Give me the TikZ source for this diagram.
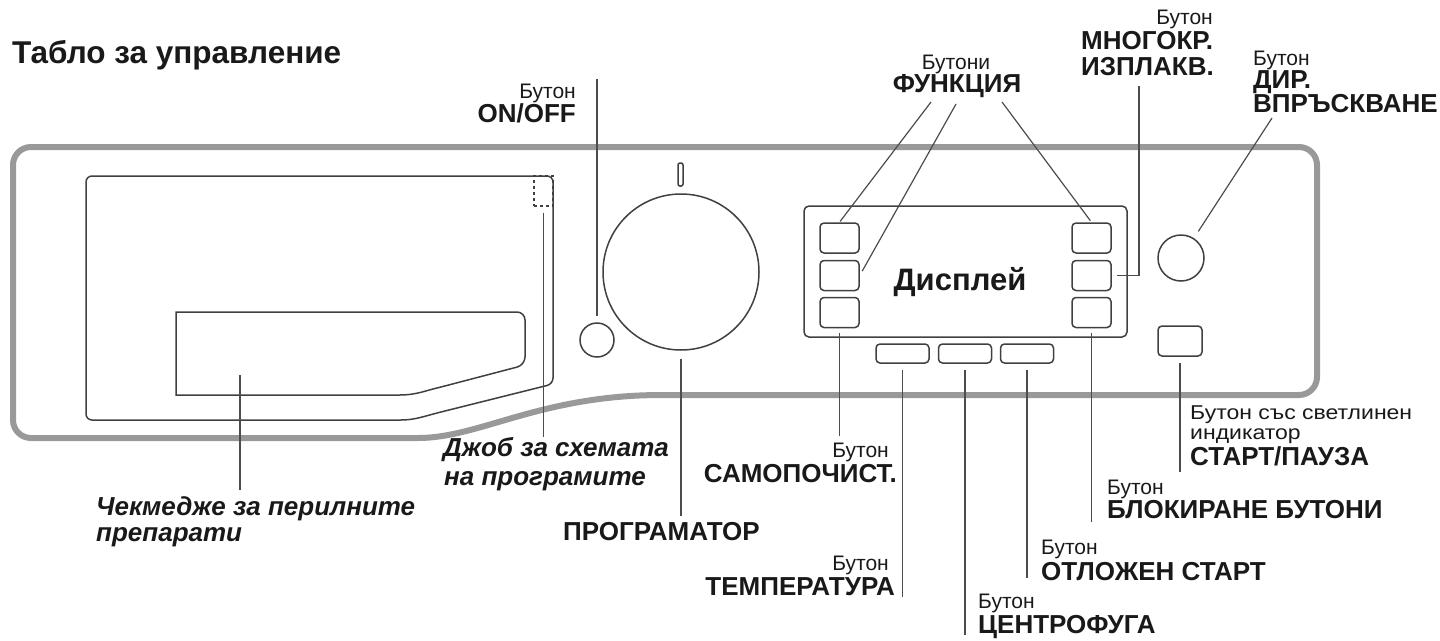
\documentclass[tikz,border=0pt]{standalone}
\usepackage{fontspec}
\setmainfont{Liberation Sans}
\newfontfamily\widesans[FakeStretch=1.15]{Liberation Sans}
\usetikzlibrary{positioning}

\begin{document}
\begin{tikzpicture}[x=1pt,y=-1pt,
  frame/.style={draw=black!40, line width=6pt},
  panel/.style={draw=black!75, line width=1.5pt},
  lead/.style={draw=black!70, line width=1.2pt},
  gap/.style={shorten <=6pt},
  btn/.style={draw=black!75, line width=1.5pt, rounded corners=4pt, inner sep=0pt,
    minimum width=39pt, minimum height=30pt},
  wide/.style={btn, minimum width=53pt, minimum height=19pt},
  knob/.style={circle, draw=black!75, line width=1.5pt, inner sep=0pt},
  word/.style={inner sep=0pt, text=black!90, font=\fontsize{21}{24}\selectfont},
  caps/.style={inner sep=0pt, text=black!90, font=\fontsize{26}{28}\selectfont\bfseries},
  slant/.style={inner sep=0pt, text=black!90, font=\fontsize{26}{28}\selectfont\bfseries\itshape}]
\useasboundingbox (0,0) rectangle (1440,640);

%% Title
\node[caps, anchor=base west, font=\fontsize{31.5}{34}\selectfont\bfseries] (title) at (12,63) {Табло за управление};

%% Panel outline
\draw[frame, rounded corners=18pt] (680,395) .. controls (540,395) and (480,438) .. (400,438)
  -- (13,438) -- (13,147) -- (1317,147) -- (1317,395) -- cycle;

%% Detergent drawer
\draw[panel, rounded corners=6pt] (86,420) -- (86,176) -- (553,176) -- (553,384) -- (445,411)
  .. controls (425,416) and (415,420) .. (395,420) -- cycle;
\draw[panel] (176,395) -- (176,312) {[rounded corners=8pt] -- (525,312) -- (525,365) -- (441,387)}
  .. controls (425,391) and (415,395) .. (400,395) -- cycle;
\node[draw=black!75, line width=1.2pt, dashed, inner sep=0pt, minimum width=19pt, minimum height=30pt]
  (pocket) at (543.5,191) {};

%% Knobs
\node[knob, minimum size=34pt] (onoff) at (597,340) {};
\node[knob, minimum size=156pt] (dial) at (681,272) {};
\draw[panel, rounded corners=2pt] (678,163) rectangle (683,186);
\node[knob, minimum size=46pt] (dir) at (1181,258) {};
\node[btn, minimum width=44pt] (start) at (1180,341) {};

%% Display with buttons
\node[draw=black!75, line width=1.5pt, rounded corners=5pt, minimum width=323pt, minimum height=131pt]
  (disp) at (965.5,271.5) {};
\node[caps, font=\fontsize{31}{34}\selectfont\bfseries, anchor=base] (disptxt) at (960,290) {Дисплей};
\foreach \n/\y in {1/238,2/275.5,3/312.5}{
  \node[btn] (f\n) at (839.5,\y) {};
  \node[btn] (r\n) at (1091.5,\y) {};
}
\foreach \n/\x in {1/902.5,2/965,3/1027}
  \node[wide] (b\n) at (\x,353.5) {};

%% Label ends
\coordinate (onoffend) at (597,79);
\coordinate (fa) at (931,102);
\coordinate (fb) at (956,104);
\coordinate (fc) at (1002,102);
\coordinate (mn) at (1139,86);
\coordinate (dr) at (1272,118);
\coordinate (dialend) at (681,516);
\coordinate (samoend) at (839.5,436);
\coordinate (tempend) at (902.5,597);
\coordinate (centend) at (965,635);
\coordinate (otlend) at (1027,578);
\coordinate (blokend) at (1091.5,522);
\coordinate (startend) at (1180,472);
\coordinate (pocketend) at (543.5,437);
\coordinate (da) at (240,375);
\coordinate (db) at (240,490);

%% Leader lines
\draw[lead, gap] (onoff) -- (onoffend);
\draw[lead, shorten >=1pt] (fa) -- (f1.north);
\draw[lead, shorten >=5pt] (fb) -- (f2.east);
\draw[lead, shorten >=2pt] (fc) -- (r1.north);
\draw[lead] ([xshift=5pt]r2.east) -| (mn);
\draw[lead, shorten <=8pt] (dir) -- (dr);
\draw[lead, shorten <=8pt] (dial) -- (dialend);
\draw[lead, shorten <=5pt] (f3) -- (samoend);
\draw[lead, gap] (b1) -- (tempend);
\draw[lead, gap] (b2) -- (centend);
\draw[lead, gap] (b3) -- (otlend);
\draw[lead, shorten <=5pt] (r3) -- (blokend);
\draw[lead, gap] (start) -- (startend);
\draw[lead, gap] (pocket) -- (pocketend);
\draw[lead] (da) -- (db);

%% Labels
\node[word, anchor=base east] (l1a) at (576,98) {Бутон};
\node[caps, anchor=base east] (l1b) at (576,122) {ON/OFF};
\node[word, anchor=base] (l2a) at (956,69) {Бутони};
\node[caps, anchor=base] (l2b) at (957,92) {ФУНКЦИЯ};
\node[word, anchor=base east] (l3a) at (1213,24) {Бутон};
\node[caps, anchor=base west] (l3b) at (1081,49) {МНОГОКР.};
\node[caps, anchor=base west] (l3c) at (1081,75) {ИЗПЛАКВ.};
\node[word, anchor=base west] (l4a) at (1253,65) {Бутон};
\node[caps, anchor=base west] (l4b) at (1253,88) {ДИР.};
\node[caps, anchor=base west] (l4c) at (1253,112) {ВПРЪСКВАНЕ};
\node[word, anchor=base east] (l5a) at (889,457) {Бутон};
\node[caps, anchor=base east] (l5b) at (897,482) {САМОПОЧИСТ.};
\node[word, anchor=base east] (l6a) at (889,570) {Бутон};
\node[caps, anchor=base east] (l6b) at (895,595) {ТЕМПЕРАТУРА};
\node[word, anchor=base west] (l7a) at (978,608) {Бутон};
\node[caps, anchor=base west] (l7b) at (978,633) {ЦЕНТРОФУГА};
\node[word, anchor=base west] (l8a) at (1041,554) {Бутон};
\node[caps, anchor=base west] (l8b) at (1041,580) {ОТЛОЖЕН СТАРТ};
\node[word, anchor=base west] (l9a) at (1107,494) {Бутон};
\node[caps, anchor=base west] (l9b) at (1107,518) {БЛОКИРАНЕ БУТОНИ};
\node[word, anchor=base west, font=\fontsize{20}{24}\widesans] (l10a) at (1190,419) {Бутон със светлинен};
\node[word, anchor=base west, font=\fontsize{20}{24}\widesans] (l10b) at (1190,439) {индикатор};
\node[caps, anchor=base west] (l10c) at (1190,465) {СТАРТ/ПАУЗА};
\node[caps, anchor=base west] (l11) at (563,540) {ПРОГРАМАТОР};
\node[slant, anchor=base west] (l12a) at (443,456) {Джоб за схемата};
\node[slant, anchor=base west] (l12b) at (444,485) {на програмите};
\node[slant, anchor=base west] (l13a) at (96,515) {Чекмедже за перилните};
\node[slant, anchor=base west] (l13b) at (96,541) {препарати};
\end{tikzpicture}
\end{document}
